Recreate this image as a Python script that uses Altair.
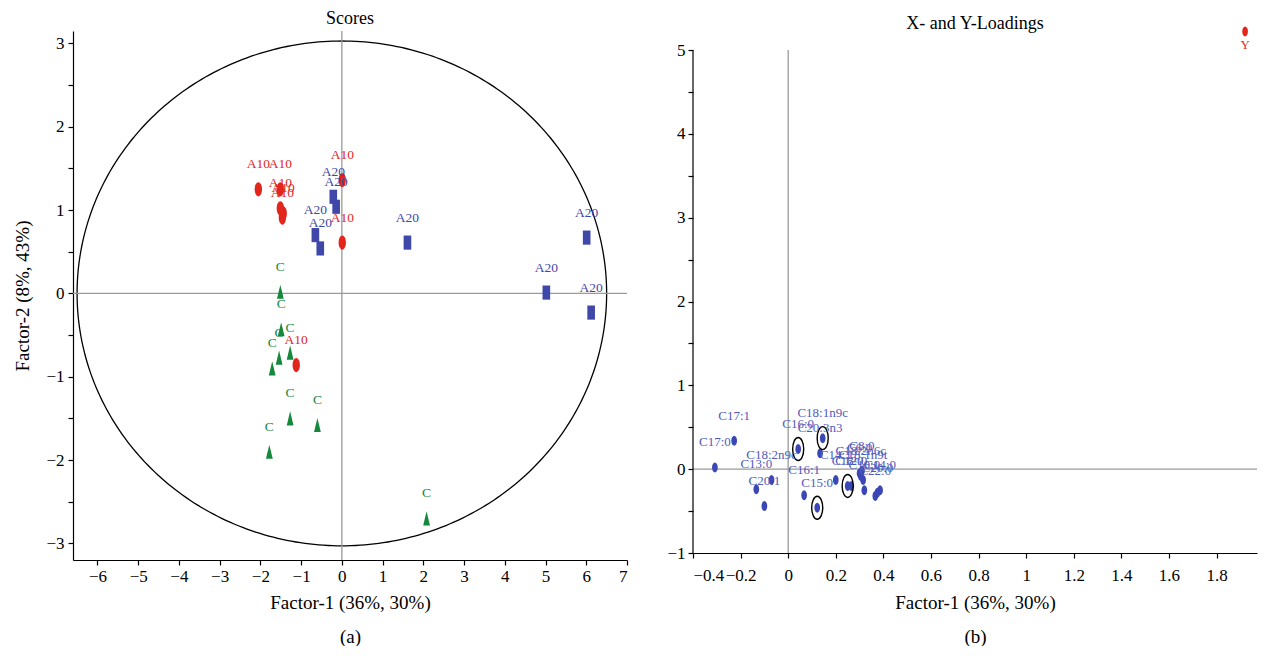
import altair as alt
import numpy as np
import pandas as pd

FONT = "Liberation Serif"
RED = "#e2261c"
BLUE = "#3f47a9"
GREEN = "#15893b"
PBLUE = "#3b47b5"
LBLUE = "#4f5bbd"

# ---------------- panel (a): Scores ----------------
a10_x = [-2.05, -1.51, -1.51, -1.44, -1.46, 0.01, 0.01, -1.12]
a10_y = [1.25, 1.25, 1.02, 0.96, 0.91, 1.36, 0.61, -0.86]
a20_x = [-0.21, -0.14, -0.65, -0.53, 1.61, 6.01, 5.02, 6.12]
a20_y = [1.16, 1.04, 0.70, 0.54, 0.61, 0.67, 0.01, -0.23]
c_x = [-1.51, -1.49, -1.54, -1.27, -1.71, -1.27, -0.60, -1.78, 2.08]
c_y = [0.02, -0.43, -0.77, -0.71, -0.90, -1.50, -1.58, -1.90, -2.70]

groups = ["A10", "A20", "C"]
scores = pd.DataFrame({
    "x": a10_x + a20_x + c_x,
    "y": a10_y + a20_y + c_y,
    "g": ["A10"] * len(a10_x) + ["A20"] * len(a20_x) + ["C"] * len(c_x),
})

# ---------------- panel (b): X- and Y-Loadings ----------------
load_names = ["C17:0", "C17:1", "C13:0", "C20:1", "C18:2n9c", "C16:0", "C18:1n9c",
              "C20:3n3", "C16:1", "C15:0", "C14:1", "C18:0", "C12:0", "C6:0", "C8:0",
              "C18:2n6c", "C18:1n9t", "C10:0", "C22:0", "C20:0", "C14:0"]
load_x = [-0.308, -0.227, -0.134, -0.10, -0.07, 0.042, 0.145,
          0.134, 0.067, 0.122, 0.20, 0.25, 0.265, 0.30, 0.31,
          0.305, 0.315, 0.32, 0.366, 0.375, 0.386]
load_y = [0.02, 0.34, -0.24, -0.44, -0.13, 0.24, 0.37,
          0.19, -0.31, -0.46, -0.13, -0.20, -0.20, -0.05, -0.02,
          -0.08, -0.13, -0.25, -0.32, -0.28, -0.25]
circled = ["C16:0", "C18:1n9c", "C15:0", "C18:0"]
y_name = ["Y"]
y_x = [1.92]
y_y = [5.22]

loads = pd.DataFrame({"x": load_x, "y": load_y, "name": load_names})
loads_c = loads[loads["name"].isin(circled)]
yload = pd.DataFrame({"x": y_x, "y": y_y, "name": y_name})

# symbol shapes (unit box [-1, 1])
k = 0.5523
def ellipse(a):
    return (f"M0,-1C{a*k:.3f},-1 {a},-{k} {a},0C{a},{k} {a*k:.3f},1 0,1"
            f"C-{a*k:.3f},1 -{a},{k} -{a},0C-{a},-{k} -{a*k:.3f},-1 0,-1Z")
ELL = ellipse(0.52)
RECT = "M-0.54,-1H0.54V1H-0.54Z"
TRI = "M0,-1L0.48,1L-0.48,1Z"
SMALL_ELL = ellipse(0.57)
RING = ellipse(0.48)

# correlation-style ellipse outline of panel (a)
t = np.linspace(0, 2 * np.pi, 361)
ring_df = pd.DataFrame({"x": 6.5 * np.cos(t), "y": 3.03 * np.sin(t), "o": np.arange(len(t))})
zero = pd.DataFrame({"x": [0], "y": [0]})

xa = alt.X("x:Q", scale=alt.Scale(domain=[-6.6, 7.0], nice=False, zero=False),
           axis=alt.Axis(values=list(range(-6, 8)), format="~g", labelOverlap=False,
                         title=["Factor-1 (36%, 30%)", "(a)"],
                         titleLineHeight=34, titlePadding=9, labelPadding=3))
ya_vals = [v / 2 for v in range(-6, 7)]
ya = alt.Y("y:Q", scale=alt.Scale(domain=[-3.2, 3.15], nice=False, zero=False),
           axis=alt.Axis(values=ya_vals, format="~g", labelOverlap=False,
                         labelExpr="datum.value % 1 === 0 ? datum.label : ''",
                         title="Factor-2 (8%, 43%)", titlePadding=13, labelPadding=4))

ring = alt.Chart(ring_df).mark_line(color="black", strokeWidth=1.3).encode(x=xa, y=ya, order="o:Q")
hz = alt.Chart(zero).mark_rule(color="#9a9a9a", strokeWidth=1.3).encode(y="y:Q")
vz = alt.Chart(zero).mark_rule(color="#9a9a9a", strokeWidth=1.3).encode(x="x:Q")
color = alt.Color("g:N", scale=alt.Scale(domain=groups, range=[RED, BLUE, GREEN]), legend=None)
pts = alt.Chart(scores).mark_point(filled=True, opacity=1, size=200).encode(
    x="x:Q", y="y:Q", color=color,
    shape=alt.Shape("g:N", scale=alt.Scale(domain=groups, range=[ELL, RECT, TRI]), legend=None))
lbl = alt.Chart(scores).mark_text(dy=-25, font=FONT, fontSize=13.5).encode(
    x="x:Q", y="y:Q", text="g:N", color=color)

left = alt.layer(ring, hz, vz, pts, lbl).properties(
    width=554, height=529,
    title=alt.TitleParams("Scores", font=FONT, fontSize=18, fontWeight="normal", offset=2))

# right panel
XB_MIN, XB_MAX = -0.4, 1.97
YB_MIN, YB_TOP, YB_MAX = -1, 5, 5.227
xb_vals = [round(v / 10, 1) for v in range(-4, 20)]
xb = alt.X("x:Q", scale=alt.Scale(domain=[XB_MIN, XB_MAX], nice=False, zero=False),
           axis=alt.Axis(values=xb_vals, format="~g", labelOverlap=False,
                         labelExpr="abs(round(datum.value * 10)) % 2 === 0 ? datum.label : ''",
                         title=["Factor-1 (36%, 30%)", "(b)"],
                         titleLineHeight=34, titlePadding=10, labelPadding=9))
yb_vals = [v / 2 for v in range(-2, 11)]
yb = alt.Y("y:Q", scale=alt.Scale(domain=[YB_MIN, YB_MAX], nice=False, zero=False),
           axis=alt.Axis(values=yb_vals, format="~g", domain=False, labelOverlap=False,
                         labelExpr="datum.value % 1 === 0 ? datum.label : ''",
                         title=None, labelPadding=3))

axis_line = pd.DataFrame({"x": [XB_MIN], "y": [YB_MIN], "y2": [YB_TOP]})
vline_df = pd.DataFrame({"x": [0], "y": [YB_MIN], "y2": [YB_TOP]})

hz2 = alt.Chart(zero).mark_rule(color="#9a9a9a", strokeWidth=1.3).encode(y=yb)
vz2 = alt.Chart(vline_df).mark_rule(color="#9a9a9a", strokeWidth=1.3).encode(x=xb, y="y:Q", y2="y2:Q")
yax = alt.Chart(axis_line).mark_rule(color="black", strokeWidth=1.2).encode(x="x:Q", y="y:Q", y2="y2:Q")
lpts = alt.Chart(loads).mark_point(filled=True, opacity=1, size=100, shape=SMALL_ELL, color=PBLUE).encode(
    x="x:Q", y="y:Q")
rings = alt.Chart(loads_c).mark_point(filled=False, opacity=1, size=529, shape=RING,
                                      color="black", strokeWidth=1.4).encode(x="x:Q", y="y:Q")
llbl = alt.Chart(loads).mark_text(dy=-25, font=FONT, fontSize=13, color=LBLUE).encode(
    x="x:Q", y="y:Q", text="name:N")
ypt = alt.Chart(yload).mark_point(filled=True, opacity=1, size=100, shape=SMALL_ELL, color=RED).encode(
    x="x:Q", y="y:Q")
ylbl = alt.Chart(yload).mark_text(dy=13, font=FONT, fontSize=13, color=RED).encode(
    x="x:Q", y="y:Q", text="name:N")

right = alt.layer(hz2, vz2, yax, lpts, rings, llbl, ypt, ylbl).properties(
    width=564, height=522,
    title=alt.TitleParams("X- and Y-Loadings", font=FONT, fontSize=18,
                          fontWeight="normal", offset=-6))

chart = alt.hconcat(left, right, spacing=66, bounds="flush").properties(
    padding={"left": 5, "top": 2, "right": 0, "bottom": 0}
).configure_view(strokeWidth=0).configure_axis(
    grid=False, domainColor="black", tickColor="black", domainWidth=1.2, tickWidth=1.2,
    tickSize=5, labelFont=FONT, labelFontSize=17, labelColor="black",
    titleFont=FONT, titleFontSize=19, titleFontWeight="normal", titleColor="black"
)

chart.save("out.html", embed_options={"renderer": "svg", "actions": False})
